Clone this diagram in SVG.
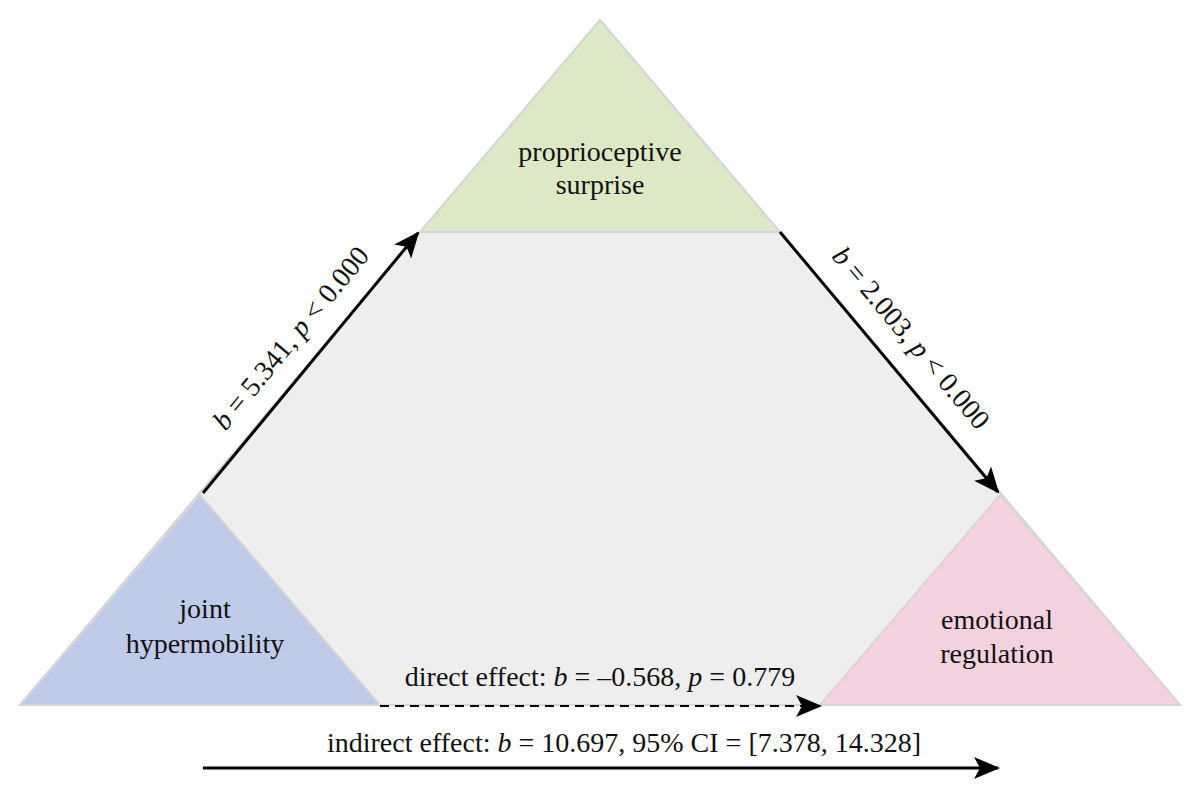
<svg xmlns="http://www.w3.org/2000/svg" width="1200" height="799" viewBox="0 0 1200 799">
<defs>
<style>
text{font-family:"Liberation Serif","DejaVu Serif",serif;font-size:28px;fill:#111}
.tri{stroke:#d6d6d6;stroke-width:2}
.ar{stroke:#000;stroke-width:3;fill:none}
</style>
<marker id="ah2" viewBox="0 0 26 26" refX="24" refY="13" markerWidth="26" markerHeight="26" markerUnits="userSpaceOnUse" orient="auto">
<path d="M0,2 L26,13 L0,24 L6,13 Z" fill="#000"/>
</marker>
</defs>
<rect width="1200" height="799" fill="#fff"/>
<g id="background"><polygon class="tri" points="600,20 1180,705 20,705" fill="#eeeeee"/></g>
<g id="node-proprioceptive"><polygon class="tri" points="600,20 780,232 420,232" fill="#dce8c6"/>
<text x="600" y="161" text-anchor="middle">proprioceptive</text><text x="600" y="194" text-anchor="middle">surprise</text></g>
<g id="node-joint"><polygon class="tri" points="200,495 380,705 20,705" fill="#bfcbe9"/>
<text x="205" y="618" text-anchor="middle">joint</text><text x="205" y="653" text-anchor="middle">hypermobility</text></g>
<g id="node-emotional"><polygon class="tri" points="1000,495 1180,705 820,705" fill="#f4d1de"/>
<text x="997" y="629" text-anchor="middle">emotional</text><text x="997" y="663" text-anchor="middle">regulation</text></g>
<g id="connectors">
<line class="ar" x1="203" y1="493" x2="418" y2="233" marker-end="url(#ah2)"/>
<line class="ar" x1="780" y1="232" x2="998" y2="492" marker-end="url(#ah2)"/>
<line class="ar" x1="380" y1="706" x2="820" y2="706" stroke-dasharray="9,6" marker-end="url(#ah2)" style="stroke-width:2"/>
<line class="ar" x1="203" y1="768" x2="998" y2="768" marker-end="url(#ah2)"/>
</g>
<g id="labels">
<text transform="translate(298,344) rotate(-50.4)" text-anchor="middle"><tspan font-style="italic">b</tspan> = 5.341, <tspan font-style="italic">p</tspan> &lt; 0.000</text>
<text transform="translate(904,344) rotate(50)" text-anchor="middle"><tspan font-style="italic">b</tspan> = 2.003, <tspan font-style="italic">p</tspan> &lt; 0.000</text>
<text x="600" y="686" text-anchor="middle">direct effect: <tspan font-style="italic">b</tspan> = –0.568, <tspan font-style="italic">p</tspan> = 0.779</text>
<text x="624" y="752" text-anchor="middle">indirect effect: <tspan font-style="italic">b</tspan> = 10.697, 95% CI = [7.378, 14.328]</text>
</g>
</svg>
